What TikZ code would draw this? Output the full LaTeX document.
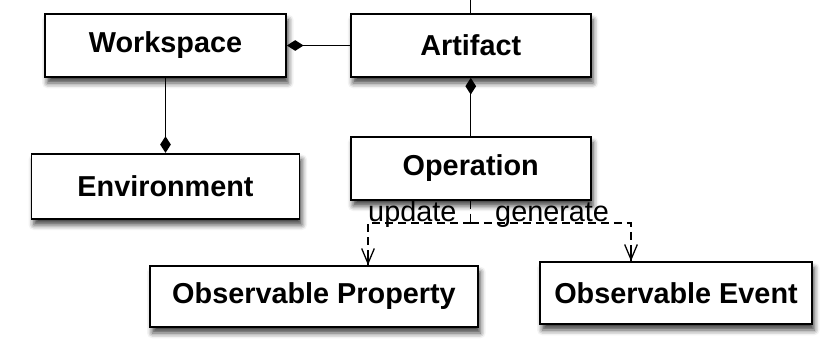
\documentclass[tikz,border=0pt]{standalone}
\usepackage{fontspec}
\newfontfamily\helv{Liberation Sans}
\usetikzlibrary{positioning,arrows.meta,shadows.blur}

\begin{document}
\begin{tikzpicture}[node distance=1.89cm,
	box/.style={draw, line width=1.5pt, fill=white, minimum height=1.89cm, font=\helv\bfseries\fontsize{24.6}{29}\selectfont,
		blur shadow={shadow xshift=0.07cm, shadow yshift=-0.18cm, shadow blur radius=0.16cm, shadow opacity=75}},
	comp/.style={line width=1.2pt, -{Diamond[length=0.5cm, width=0.32cm]}},
	dep/.style={line width=1.1pt, dash pattern=on 0.24cm off 0.15cm},
	tip/.style={line width=1.1pt, -{Straight Barb[length=0.45cm, width=0.38cm]}},
	lbl/.style={inner sep=0pt, font=\helv\fontsize{24.6}{29}\selectfont}]
	\useasboundingbox (0,0) rectangle (24.69,10.56);

	\node[box, minimum width=7.23cm] (ws) at (4.965,9.195) {Workspace};
	\node[box, minimum width=7.2cm, right=of ws] (art) {Artifact};
	\node[box, minimum width=8.04cm, minimum height=1.95cm, below=2.25cm of ws] (env) {Environment};
	\node[box, minimum width=7.2cm, below=1.74cm of art] (op) {Operation};
	\node[box, minimum width=9.84cm, minimum height=1.83cm] (prop) at (9.42,1.665) {Observable Property};
	\node[box, minimum width=8.16cm, minimum height=1.86cm] (evt) at (20.28,1.77) {Observable Event};

	\coordinate[above=0.42cm of art.north] (up);
	\coordinate (fork) at (op.south |- 0,3.87);
	\coordinate (toprop) at (11.04,3.87);
	\coordinate (toevt) at (18.93,3.87);
	\coordinate (inprop) at (toprop |- prop.north);
	\coordinate (inevt) at (toevt |- evt.north);

	\path
	(art) edge[comp] (ws)
	(ws) edge[comp] (env)
	(op) edge[comp] (art);
	\draw[line width=1.2pt] (art) -- (up);

	\draw[dep] (op.south) -- (fork);
	\draw[dep] (fork) -- (toprop) -- (inprop);
	\draw[dep] (fork) -- (toevt) -- (inevt);
	\draw[tip] ([yshift=0.45cm]inprop) -- (inprop);
	\draw[tip] ([yshift=0.45cm]inevt) -- (inevt);

	\node[lbl, anchor=base west] (upd) at ([yshift=0.05cm]toprop) {update};
	\node[lbl, anchor=base west] (gen) at ([yshift=0.05cm]14.85,3.87) {generate};
\end{tikzpicture}
\end{document}
